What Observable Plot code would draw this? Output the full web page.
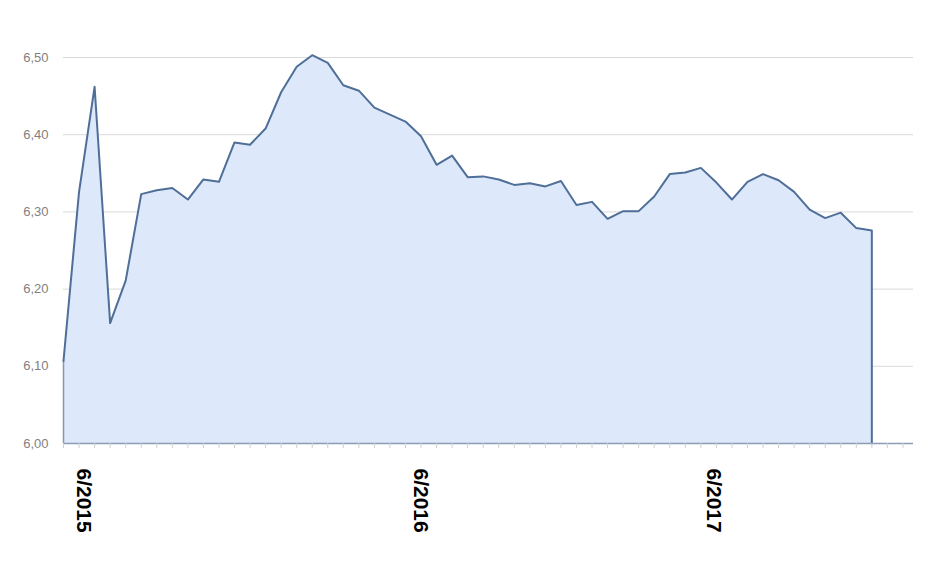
<!DOCTYPE html>
<html>
<head>
<meta charset="utf-8">
<script src="https://cdn.jsdelivr.net/npm/d3@7"></script>
<script src="https://cdn.jsdelivr.net/npm/@observablehq/plot@0.6"></script>
<style>
  html, body { margin: 0; padding: 0; background: #ffffff; }
  svg { display: block; }
</style>
</head>
<body>
<div id="chart"></div>
<script>
// Series values (one per period, in order)
const values = [
  6.107, 6.326, 6.462, 6.156, 6.211, 6.323, 6.328, 6.331, 6.316, 6.342,
  6.339, 6.390, 6.387, 6.408, 6.455, 6.488, 6.503, 6.493, 6.464, 6.457,
  6.435, 6.426, 6.417, 6.398, 6.361, 6.373, 6.345, 6.346, 6.342, 6.335,
  6.337, 6.333, 6.340, 6.309, 6.313, 6.291, 6.301, 6.301, 6.320, 6.349,
  6.351, 6.357, 6.338, 6.316, 6.339, 6.349, 6.341, 6.326, 6.303, 6.292,
  6.299, 6.279, 6.276
];
// X tick labels and their positions (period index)
const xLabels = ["6/2015", "6/2016", "6/2017"];
const xLabelPos = [1.3, 23, 41.85];
// Y tick values
const yTicks = [6.0, 6.1, 6.2, 6.3, 6.4, 6.5];
const baseline = 6.0;
const xDomainEnd = 54.68;

const data = values.map((v, i) => ({i, v}));
const lineData = [...data, {i: values.length - 1, v: baseline}];
const tickIdx = d3.range(0, 55);
const labelData = xLabels.map((t, k) => ({t, x: xLabelPos[k]}));

const chart = Plot.plot({
  width: 932,
  height: 572,
  marginTop: 57,
  marginBottom: 129,
  marginLeft: 63,
  marginRight: 19,
  style: {background: "#ffffff", fontFamily: "'Liberation Sans', Arial, sans-serif"},
  x: {domain: [0, xDomainEnd], axis: null},
  y: {domain: [6.0, 6.5], axis: null},
  marks: [
    Plot.gridY(yTicks.filter(d => d > baseline), {stroke: "#d9d9d9", strokeOpacity: 1, strokeWidth: 1}),
    Plot.axisY(yTicks, {
      tickSize: 0, tickPadding: 15, fontSize: 13, fill: "#7f7f7f",
      tickFormat: d => d.toFixed(2).replace(".", ","), label: null
    }),
    Plot.areaY(data, {x: "i", y1: baseline, y2: "v", fill: "#dde8fa", fillOpacity: 1}),
    Plot.ruleX([0], {y1: baseline, y2: values[0], stroke: "#8797b3", strokeWidth: 1.5}),
    Plot.line(lineData, {x: "i", y: "v", stroke: "#4f6f98", strokeWidth: 2, strokeLinejoin: "round"}),
    Plot.ruleY([baseline], {stroke: "#8d9cb6", strokeWidth: 1.5}),
    Plot.axisX(tickIdx, {tickSize: 5, stroke: "#cfcfcf", tickFormat: () => "", label: null}),
    Plot.text(labelData, {
      x: "x", y: baseline, text: "t", rotate: 90, dy: 25,
      textAnchor: "start", lineAnchor: "middle",
      fontSize: 21, fontWeight: "bold", fill: "#000000"
    })
  ]
});
document.getElementById("chart").appendChild(chart);
</script>
</body>
</html>
